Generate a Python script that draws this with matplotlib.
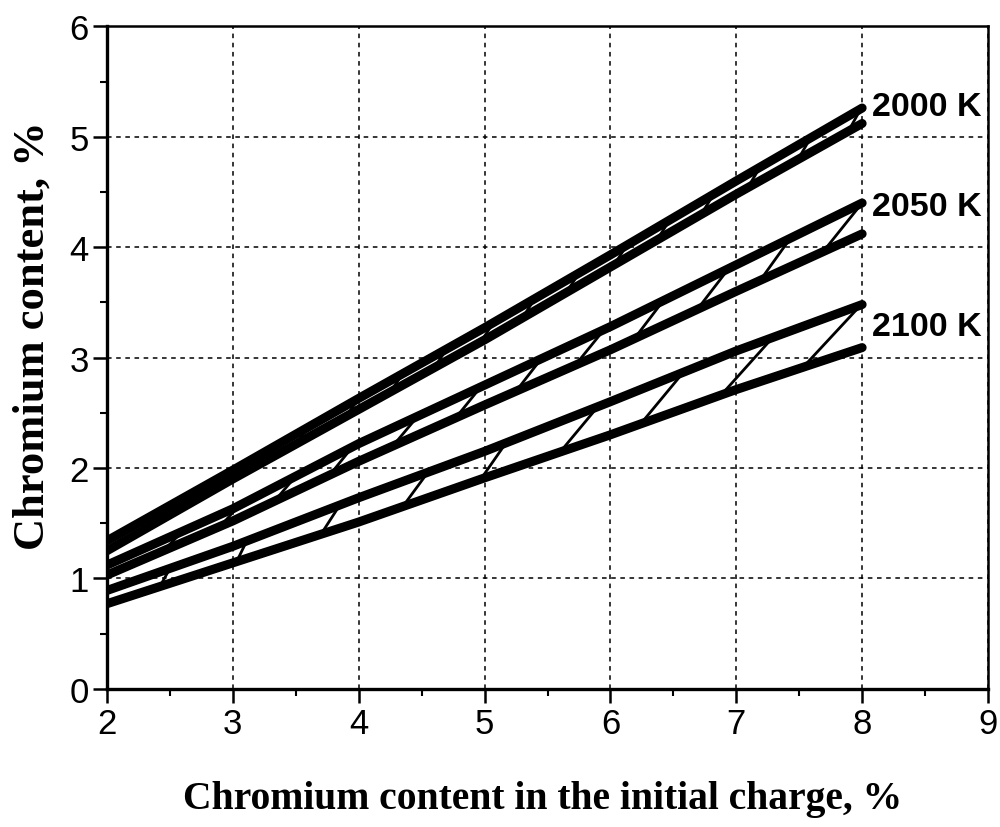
import numpy as np
import matplotlib.pyplot as plt
from matplotlib.ticker import MultipleLocator

plt.rcParams['font.family'] = ['Liberation Sans', 'DejaVu Sans']

# data
x = [2, 3, 4, 5, 6, 7, 8]
t2000_hi = [1.34, 1.98, 2.63, 3.27, 3.93, 4.60, 5.26]
t2000_lo = [1.25, 1.90, 2.53, 3.16, 3.82, 4.48, 5.12]
t2050_hi = [1.12, 1.63, 2.22, 2.75, 3.28, 3.84, 4.40]
t2050_lo = [1.03, 1.52, 2.06, 2.57, 3.07, 3.60, 4.12]
t2100_hi = [0.89, 1.29, 1.73, 2.15, 2.60, 3.06, 3.48]
t2100_lo = [0.77, 1.14, 1.51, 1.91, 2.30, 2.71, 3.09]

# hatch strokes: start on lower curve, end on upper curve
h2000_lo = [2.3, 2.7, 3.1, 3.5, 3.9, 4.25, 4.6, 4.97, 5.30, 5.65, 6.03, 6.37, 6.72, 7.09, 7.49, 7.89]
h2000_up = [2.4, 2.8, 3.2, 3.6, 4.0, 4.35, 4.7, 5.07, 5.40, 5.75, 6.13, 6.47, 6.82, 7.19, 7.59, 7.99]
h2050_lo = [2.45, 2.9, 3.33, 3.77, 4.27, 4.77, 5.25, 5.72, 6.19, 6.69, 7.19, 7.69]
h2050_up = [2.6, 3.05, 3.5, 3.95, 4.47, 4.97, 5.45, 5.95, 6.42, 6.94, 7.43, 8.00]
h2100_lo = [2.42, 3.03, 3.70, 4.35, 4.97, 5.60, 6.24, 6.88, 7.53]
h2100_up = [2.50, 3.11, 3.85, 4.55, 5.17, 5.90, 6.58, 7.29, 7.99]

bands = [(t2000_hi, t2000_lo, h2000_lo, h2000_up, '2000 K', 5.27),
         (t2050_hi, t2050_lo, h2050_lo, h2050_up, '2050 K', 4.37),
         (t2100_hi, t2100_lo, h2100_lo, h2100_up, '2100 K', 3.28)]

fig = plt.figure(figsize=(10, 8.28), dpi=100)
ax = fig.add_axes([0.107, 0.167, 0.881, 0.800])

for hi, lo, hl, hu, lab, ly in bands:
    for a, b in zip(hl, hu):
        ax.plot([a, b], [np.interp(a, x, lo), np.interp(b, x, hi)],
                color='k', lw=2, zorder=3)
    ax.plot(x, hi, color='k', lw=6.5, solid_capstyle='round', zorder=4)
    ax.plot(x, lo, color='k', lw=6.5, solid_capstyle='round', zorder=4)
    ax.text(8.08, ly, lab, fontsize=24.5, fontweight='bold', va='center', ha='left',
            zorder=2)

ax.set_xlim(2, 9)
ax.set_ylim(0, 6)
ax.xaxis.set_major_locator(MultipleLocator(1))
ax.xaxis.set_minor_locator(MultipleLocator(0.5))
ax.yaxis.set_major_locator(MultipleLocator(1))
ax.yaxis.set_minor_locator(MultipleLocator(0.5))
ax.tick_params(which='major', direction='out', length=10, width=1.8, labelsize=25, pad=3)
ax.tick_params(which='minor', direction='out', length=5, width=1.5)
ax.grid(True, which='major', color='k', linestyle=(0, (3, 3)), linewidth=1.1)
ax.set_axisbelow(True)

for side in ['left', 'bottom']:
    ax.spines[side].set_linewidth(2.4)
for side in ['top', 'right']:
    ax.spines[side].set_linewidth(1.8)

ax.set_xlabel('Chromium content in the initial charge, %', fontsize=28.5,
              fontweight='bold', family='Liberation Serif')
ax.set_ylabel('Chromium content, %', fontsize=32, fontweight='bold',
              family='Liberation Serif')
ax.xaxis.label.set_va('center')
ax.yaxis.label.set_va('center')
ax.xaxis.set_label_coords(0.494, -0.166)
ax.yaxis.set_label_coords(-0.085, 0.535)

fig.savefig('out.png', dpi=100)
